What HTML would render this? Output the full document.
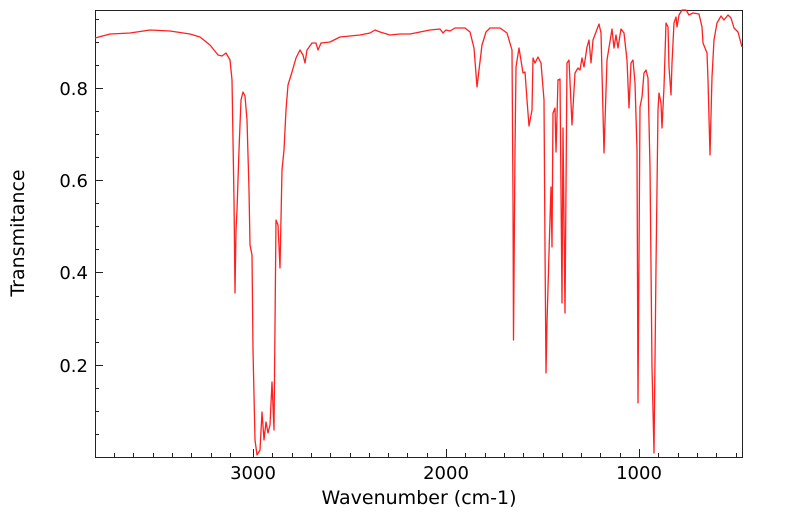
<!DOCTYPE html>
<html><head><style>body{margin:0;background:#fff}svg{display:block}text{font-family:"DejaVu Sans","Liberation Sans",sans-serif;fill:#000}</style></head>
<body>
<svg width="799" height="516" viewBox="0 0 799 516" xmlns="http://www.w3.org/2000/svg">
<rect x="95.5" y="10.5" width="647" height="447" fill="none" stroke="#222" stroke-width="1"/>
<polyline fill="none" stroke="#ff2020" stroke-width="1.3" stroke-linejoin="round" points="
95,38 110,34 130,33 150,30 170,31 190,34 200,37 210,45 218,55 222,56 226,53 230,60 232,80 234,200 235,293 236,230 237,210 239,150 241,100 243,92 245,96 247,120 249,190 250,245 252,255 253,350 255,440 257,455 260,450 262,412 264,440 266,422 268,433 270,425 272,382 274,430 276,220 278,225 280,268 282,170 284,150 286,110 288,85 292,72 296,58 300,50 303,55 305,63 307,50 312,43 316,43 318,50 321,43 330,42 340,37 350,36 360,35 370,33 375,30 380,32 390,35 400,34 410,34 420,32 430,30 440,29 443,33 446,30 450,31 455,28 465,28 470,32 474,48 477,87 479,70 482,45 486,32 490,28 500,28 507,33 512,50 513,200 513.5,340 515,150 516,67 519,48 523,73 525,72 527,100 529,126 532,110 533,58 535,63 538,57 541,63 544,100 545,247 546,373 547,323 549,253 551,187 552,247 553,113 555,108 556,152 558,80 560,79 562,303 563,128 565,313 567,63 569,60 572,125 575,73 578,68 580,70 582,58 584,67 587,47 589,40 591,63 593,40 599,24 601,33 604,153 607,60 612,29 614,48 616,35 618,48 621,29 624,33 627,60 629,108 631,63 633,60 635,83 637,150 638,403 640,107 642,97 644,73 646,70 648,78 650,167 652,367 654,453 656,267 658,110 659,93 661,103 662,128 664,87 666,23 668,27 669,67 671,95 672,63 674,23 676,17 677,27 679,15 682,10 686,10 689,15 693,13 699,14 702,27 703,43 707,53 708,80 710,155 712,77 714,40 717,23 721,16 724,20 728,15 731,18 734,28 738,32 742,47"/>
<g font-size="18">
<text x="88" y="372" text-anchor="end">0.2</text>
<text x="88" y="279" text-anchor="end">0.4</text>
<text x="88" y="187" text-anchor="end">0.6</text>
<text x="88" y="95" text-anchor="end">0.8</text>
<text x="253" y="479" text-anchor="middle">3000</text>
<text x="446" y="479" text-anchor="middle">2000</text>
<text x="639" y="479" text-anchor="middle">1000</text>
<text x="419" y="504" text-anchor="middle" font-size="19">Wavenumber (cm-1)</text>
<text transform="translate(24,233) rotate(-90)" text-anchor="middle" font-size="19">Transmitance</text>
</g>
<g stroke="#222" stroke-width="1">
<line x1="95" y1="365.5" x2="103" y2="365.5"/><line x1="95" y1="272.5" x2="103" y2="272.5"/><line x1="95" y1="180.5" x2="103" y2="180.5"/><line x1="95" y1="88.5" x2="103" y2="88.5"/>
<line x1="95" y1="434.5" x2="99" y2="434.5"/><line x1="95" y1="411.5" x2="99" y2="411.5"/><line x1="95" y1="388.5" x2="99" y2="388.5"/><line x1="95" y1="342.5" x2="99" y2="342.5"/><line x1="95" y1="319.5" x2="99" y2="319.5"/><line x1="95" y1="296.5" x2="99" y2="296.5"/><line x1="95" y1="249.5" x2="99" y2="249.5"/><line x1="95" y1="226.5" x2="99" y2="226.5"/><line x1="95" y1="203.5" x2="99" y2="203.5"/><line x1="95" y1="157.5" x2="99" y2="157.5"/><line x1="95" y1="134.5" x2="99" y2="134.5"/><line x1="95" y1="111.5" x2="99" y2="111.5"/><line x1="95" y1="65.5" x2="99" y2="65.5"/><line x1="95" y1="42.5" x2="99" y2="42.5"/><line x1="95" y1="19.5" x2="99" y2="19.5"/>
<line x1="253.5" y1="457" x2="253.5" y2="449"/><line x1="446.5" y1="457" x2="446.5" y2="449"/><line x1="639.5" y1="457" x2="639.5" y2="449"/>
<line x1="114.5" y1="457" x2="114.5" y2="453"/><line x1="133.5" y1="457" x2="133.5" y2="453"/><line x1="153.5" y1="457" x2="153.5" y2="453"/><line x1="172.5" y1="457" x2="172.5" y2="453"/><line x1="191.5" y1="457" x2="191.5" y2="453"/><line x1="211.5" y1="457" x2="211.5" y2="453"/><line x1="230.5" y1="457" x2="230.5" y2="453"/><line x1="272.5" y1="457" x2="272.5" y2="453"/><line x1="292.5" y1="457" x2="292.5" y2="453"/><line x1="311.5" y1="457" x2="311.5" y2="453"/><line x1="330.5" y1="457" x2="330.5" y2="453"/><line x1="350.5" y1="457" x2="350.5" y2="453"/><line x1="369.5" y1="457" x2="369.5" y2="453"/><line x1="388.5" y1="457" x2="388.5" y2="453"/><line x1="407.5" y1="457" x2="407.5" y2="453"/><line x1="427.5" y1="457" x2="427.5" y2="453"/><line x1="465.5" y1="457" x2="465.5" y2="453"/><line x1="485.5" y1="457" x2="485.5" y2="453"/><line x1="504.5" y1="457" x2="504.5" y2="453"/><line x1="523.5" y1="457" x2="523.5" y2="453"/><line x1="543.5" y1="457" x2="543.5" y2="453"/><line x1="562.5" y1="457" x2="562.5" y2="453"/><line x1="581.5" y1="457" x2="581.5" y2="453"/><line x1="600.5" y1="457" x2="600.5" y2="453"/><line x1="620.5" y1="457" x2="620.5" y2="453"/><line x1="658.5" y1="457" x2="658.5" y2="453"/><line x1="678.5" y1="457" x2="678.5" y2="453"/><line x1="697.5" y1="457" x2="697.5" y2="453"/><line x1="716.5" y1="457" x2="716.5" y2="453"/><line x1="736.5" y1="457" x2="736.5" y2="453"/>
</g>
</svg>
</body></html>
